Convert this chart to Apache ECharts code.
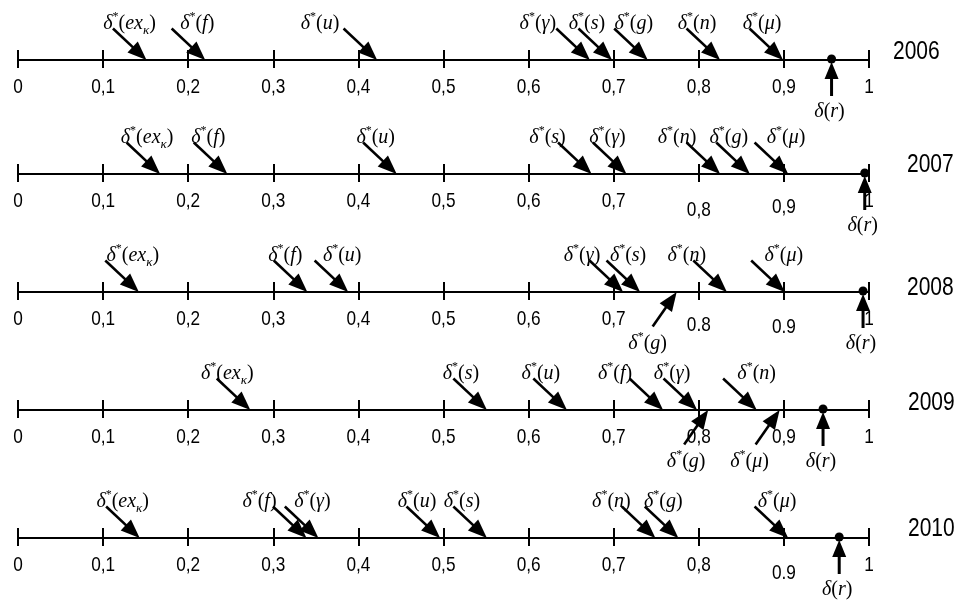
<!DOCTYPE html>
<html><head><meta charset="utf-8">
<script src="https://cdn.jsdelivr.net/npm/echarts@6/dist/echarts.min.js"></script>
<style>html,body{margin:0;padding:0;background:#fff}#c{width:959px;height:606px}</style>
</head><body><div id="c"></div>
<script>
// ---------- DATA ----------
const years = ['2006', '2007', '2008', '2009', '2010'];
const indicators = ['exK', 'f', 'u', 'γ', 's', 'g', 'n', 'μ'];
const values2006 = [0.151, 0.220, 0.422, 0.672, 0.698, 0.740, 0.825, 0.899];
const values2007 = [0.167, 0.246, 0.445, 0.715, 0.674, 0.860, 0.825, 0.905];
const values2008 = [0.142, 0.340, 0.388, 0.711, 0.731, 0.774, 0.833, 0.901];
const values2009 = [0.273, 0.758, 0.645, 0.798, 0.551, 0.811, 0.868, 0.895];
const values2010 = [0.143, 0.339, 0.496, 0.353, 0.551, 0.776, 0.749, 0.905];
const deltaR = [0.956, 0.995, 0.993, 0.946, 0.965];
const tickValues = [0, 0.1, 0.2, 0.3, 0.4, 0.5, 0.6, 0.7, 0.8, 0.9, 1];
const tickLabels2006 = ['0', '0,1', '0,2', '0,3', '0,4', '0,5', '0,6', '0,7', '0,8', '0,9', '1'];
const tickLabels2007 = ['0', '0,1', '0,2', '0,3', '0,4', '0,5', '0,6', '0,7', '0,8', '0,9', '1'];
const tickLabels2008 = ['0', '0,1', '0,2', '0,3', '0,4', '0,5', '0,6', '0,7', '0.8', '0.9', '1'];
const tickLabels2009 = ['0', '0,1', '0,2', '0,3', '0,4', '0,5', '0,6', '0,7', '0,8', '0,9', '1'];
const tickLabels2010 = ['0', '0,1', '0,2', '0,3', '0,4', '0,5', '0,6', '0,7', '0,8', '0.9', '1'];
const belowMarks = { '2008': ['g'], '2009': ['g', 'μ'] };

const allValues = [values2006, values2007, values2008, values2009, values2010];
const allTicks = [tickLabels2006, tickLabels2007, tickLabels2008, tickLabels2009, tickLabels2010];

// ---------- LAYOUT (pixels, not data) ----------
const AX = [60, 174, 292, 410, 538];           // axis line y per row
const labelDx = {
  '2006': [-17, -8, -57, -52, -25, -14, -23, -21],
  '2007': [-13, -19, -21, -19, -44, -21, -43, -2],
  '2008': [-6, -22, -6, -41, -12, -29, -40, -1],
  '2009': [-23, -48, -26, -25, -26, -22, 0, -30],
  '2010': [-17, -47, -23, -6, -25, -15, -44, -11]
};
const lowered = { '2007': { 8: 9, 9: 6 }, '2008': { 8: 6, 9: 8 }, '2010': { 9: 8 } };
const yearX = [893, 907, 907, 908, 908];
const yearDy = [-8, -9, -4, -7, -9];
const HEAD_W = 15, HEAD_L = 19;
const DIR_ABOVE = (() => { const n = Math.hypot(32, 30); return [32 / n, 30 / n]; })();
const DIR_BELOW = (() => { const n = Math.hypot(23, -33); return [23 / n, -33 / n]; })();

const SERIF = '"Liberation Serif","Times New Roman",serif';
const SANS = '"Liberation Sans",Arial,sans-serif';
const RICH = {
  d: { fontFamily: SERIF, fontStyle: 'italic', fontSize: 20, lineHeight: 26 },
  s: { fontFamily: SERIF, fontSize: 12, verticalAlign: 'top', lineHeight: 26 },
  p: { fontFamily: SERIF, fontSize: 20, lineHeight: 26 },
  v: { fontFamily: SERIF, fontStyle: 'italic', fontSize: 20, lineHeight: 26 },
  k: { fontFamily: SERIF, fontStyle: 'italic', fontSize: 13, verticalAlign: 'bottom', lineHeight: 26 }
};
function starText(name) {
  if (name === 'exK') return '{d|δ}{s|*}{p|(}{v|ex}{k|κ}{p|)}';
  return '{d|δ}{s|*}{p|(}{v|' + name + '}{p|)}';
}
// rotation (deg, CCW) that turns an up-pointing triangle toward direction u (screen coords)
function rotFor(u) {
  const ang = Math.atan2(u[1], u[0]) * 180 / Math.PI;
  return -(ang + 90);
}

function arrowRender(row) {
  const yr = years[row];
  return function (params, api) {
    const idx = params.dataIndex;
    const below = api.value(2) === 1;
    const tip = api.coord([api.value(0), 0]);
    const u = below ? DIR_BELOW : DIR_ABOVE;
    const L = below ? 42 : 46;
    const tail = [tip[0] - u[0] * L, tip[1] - u[1] * L];
    const base = [tip[0] - u[0] * (HEAD_L - 2), tip[1] - u[1] * (HEAD_L - 2)];
    return {
      type: 'group', children: [
        { type: 'line', shape: { x1: tail[0], y1: tail[1], x2: base[0], y2: base[1] }, style: { stroke: '#000', lineWidth: 2.6 } },
        { type: 'text', x: tip[0] + labelDx[yr][idx], y: tip[1] + (below ? 52 : -36),
          style: { text: starText(indicators[idx]), rich: RICH, align: 'center', verticalAlign: 'middle', fill: '#000' } }
      ]
    };
  };
}
function rRender(params, api) {
  const p = api.coord([api.value(0), 0]);
  return {
    type: 'group', children: [
      { type: 'line', shape: { x1: p[0], y1: p[1] + 14, x2: p[0], y2: p[1] + 36 }, style: { stroke: '#000', lineWidth: 3 } },
      { type: 'circle', shape: { cx: p[0], cy: p[1] - 1, r: 4.5 }, style: { fill: '#000' } },
      { type: 'text', x: p[0] - 2, y: p[1] + 52, style: { text: '{d|δ}{p|(}{v|r}{p|)}', rich: RICH, align: 'center', verticalAlign: 'middle', fill: '#000' } }
    ]
  };
}
function tickLabelRender(row) {
  const low = lowered[years[row]] || {};
  return function (params, api) {
    const k = params.dataIndex;
    const p = api.coord([api.value(0), 0]);
    return {
      type: 'text', x: p[0], y: p[1] + 27 + (low[k] || 0), scaleX: 0.82,
      style: { text: allTicks[row][k], font: '21px ' + SANS, fill: '#000', align: 'center', verticalAlign: 'middle' }
    };
  };
}

const grids = [], xAxes = [], yAxes = [], series = [];
years.forEach((yr, i) => {
  grids.push({ left: 18, width: 851, top: AX[i] - 10, height: 10 });
  const common = { type: 'value', gridIndex: i, position: 'bottom', min: 0, max: 1, interval: 0.1, splitLine: { show: false } };
  xAxes.push(Object.assign({}, common, {
    axisLine: { show: true, lineStyle: { color: '#000', width: 2 } },
    axisTick: { show: true, inside: true, length: 10, lineStyle: { color: '#000', width: 2 } },
    axisLabel: { show: false }
  }));
  xAxes.push(Object.assign({}, common, {
    axisLine: { show: true, lineStyle: { color: '#000', width: 2 } },
    axisTick: { show: true, inside: false, length: 8, lineStyle: { color: '#000', width: 2 } },
    axisLabel: { show: false }
  }));
  yAxes.push({ type: 'value', gridIndex: i, min: 0, max: 1, show: false });
  const below = belowMarks[yr] || [];
  const sides = allValues[i].map((v, j) => below.includes(indicators[j]) ? 1 : 0);
  const base = { xAxisIndex: i * 2 + 1, yAxisIndex: i, clip: false, silent: true, animation: false };
  series.push(Object.assign({ type: 'custom', renderItem: tickLabelRender(i), data: tickValues.map(v => [v, 0]) }, base));
  series.push(Object.assign({ type: 'custom', renderItem: arrowRender(i),
    data: allValues[i].map((v, j) => [v, 0, sides[j]]) }, base));
  series.push(Object.assign({ type: 'custom', renderItem: rRender, data: [[deltaR[i], 0]] }, base));
  series.push(Object.assign({
    type: 'scatter', symbol: 'triangle', symbolSize: [HEAD_W, HEAD_L],
    itemStyle: { color: '#000', opacity: 1 },
    data: allValues[i].map((v, j) => {
      const u = sides[j] ? DIR_BELOW : DIR_ABOVE;
      return { value: [v, 0], symbolRotate: rotFor(u), symbolOffset: [-u[0] * HEAD_L / 2, -u[1] * HEAD_L / 2] };
    }).concat([{ value: [deltaR[i], 0], symbolRotate: 0, symbolSize: [14, 17], symbolOffset: [0, 2 + 8.5] }])
  }, base));
});

const chart = echarts.init(document.getElementById('c'), null, { renderer: 'canvas' });
chart.setOption({
  backgroundColor: '#fff',
  animation: false,
  grid: grids, xAxis: xAxes, yAxis: yAxes, series: series,
  graphic: years.map((y, i) => ({
    type: 'text', x: yearX[i], y: AX[i] + yearDy[i], scaleX: 0.84,
    style: { text: y, font: '25px ' + SANS, fill: '#000', verticalAlign: 'middle' }
  }))
});
</script></body></html>
